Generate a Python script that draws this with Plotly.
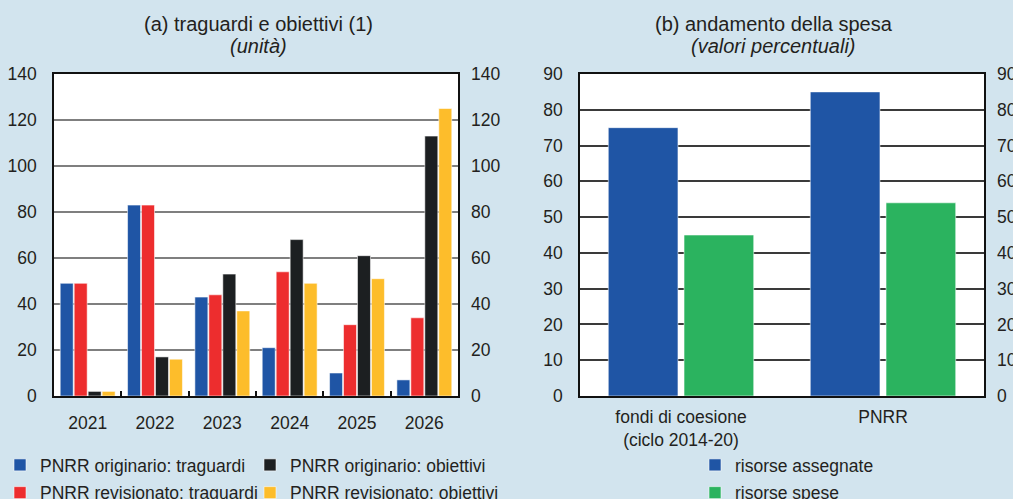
import plotly.graph_objects as go

# ---- data panel (a): milestones and targets (units)
years = ["2021", "2022", "2023", "2024", "2025", "2026"]
orig_traguardi = [49, 83, 43, 21, 10, 7]
rev_traguardi = [49, 83, 44, 54, 31, 34]
orig_obiettivi = [2, 17, 53, 68, 61, 113]
rev_obiettivi = [2, 16, 37, 49, 51, 125]

# ---- data panel (b): spending (percent)
spesa_categorie = ["fondi di coesione<br>(ciclo 2014-20)", "PNRR"]
risorse_assegnate = [75, 85]
risorse_spese = [45, 54]

names_a = ["PNRR originario: traguardi", "PNRR revisionato: traguardi",
           "PNRR originario: obiettivi", "PNRR revisionato: obiettivi"]
series_a = [orig_traguardi, rev_traguardi, orig_obiettivi, rev_obiettivi]
colors_a = ["#1f55a5", "#ed2d2e", "#1c1f21", "#fdbd2b"]
legends_a = ["legend", "legend", "legend3", "legend3"]

BG = "#d2e4ee"
FONT = "Liberation Sans, Arial, sans-serif"
TXT = "#231f20"
outline = dict(color="rgba(255,255,255,0.55)", width=1)

fig = go.Figure()
for i, (name, vals, col, lg) in enumerate(zip(names_a, series_a, colors_a, legends_a)):
    fig.add_trace(go.Bar(x=years, y=vals, name=name, marker=dict(color=col, line=outline),
                         xaxis="x", yaxis="y", legend=lg, legendgroup=f"a{i}"))

fig.add_trace(go.Bar(x=spesa_categorie, y=risorse_assegnate, name="risorse assegnate",
                     marker=dict(color="#1f55a5", line=outline), width=0.345, offset=-0.36,
                     xaxis="x2", yaxis="y2", legend="legend2", legendgroup="b0"))
fig.add_trace(go.Bar(x=spesa_categorie, y=risorse_spese, name="risorse spese",
                     marker=dict(color="#2bb35f", line=outline), width=0.345, offset=0.015,
                     xaxis="x2", yaxis="y2", legend="legend2", legendgroup="b1"))

# invisible companions so the mirrored right-hand value axes are drawn
fig.add_trace(go.Scatter(x=years, y=rev_obiettivi, mode="markers", marker=dict(opacity=0),
                         xaxis="x", yaxis="y3", showlegend=False, hoverinfo="skip"))
fig.add_trace(go.Scatter(x=spesa_categorie, y=risorse_assegnate, mode="markers",
                         marker=dict(opacity=0), xaxis="x2", yaxis="y4", showlegend=False,
                         hoverinfo="skip"))

W, H = 1013, 499
dom_y = [1 - 396 / H, 1 - 74 / H]
dom_a = [54 / W, 458 / W]
dom_b = [580 / W, 984 / W]

FS = 17.5
tickfont = dict(family=FONT, size=FS, color=TXT)
frame = dict(showline=True, linecolor="#111111", linewidth=1.5, mirror=True, automargin=False)
legfont = dict(family=FONT, size=FS, color=TXT)
LEG_Y = 1 - 447 / H


def title_line(text, x, y):
    return dict(text=text, x=x / W, y=1 - y / H, xref="paper", yref="paper", showarrow=False,
                xanchor="center", yanchor="middle", font=dict(family=FONT, size=20, color=TXT))


def legend_box(x):
    return dict(orientation="v", x=x / W, xanchor="left", y=LEG_Y, yanchor="top",
                bgcolor="rgba(0,0,0,0)", font=legfont, tracegroupgap=2)


fig.update_layout(
    width=W, height=H,
    margin=dict(l=0, r=0, t=0, b=0, autoexpand=False),
    paper_bgcolor=BG, plot_bgcolor="white",
    font=dict(family=FONT, size=FS, color=TXT),
    barmode="group", bargap=0.17, bargroupgap=0.07,
    xaxis=dict(domain=dom_a, anchor="y", ticks="inside", tickson="boundaries", ticklen=5,
               tickcolor="#111111", tickwidth=1.5, showgrid=False, tickfont=tickfont,
               ticklabelstandoff=10, **frame),
    yaxis=dict(domain=dom_y, anchor="x", range=[0, 140], dtick=20, showgrid=True,
               gridcolor="#7f7f7f", gridwidth=1.5, zeroline=False, tickfont=tickfont,
               ticklabelstandoff=12, **frame),
    yaxis3=dict(overlaying="y", side="right", anchor="x", range=[0, 140], dtick=20,
                showgrid=False, zeroline=False, tickfont=tickfont, ticklabelstandoff=12,
                automargin=False),
    xaxis2=dict(domain=dom_b, anchor="y2", showgrid=False, tickfont=tickfont,
                ticklabelstandoff=4, **frame),
    yaxis2=dict(domain=dom_y, anchor="x2", range=[0, 90], dtick=10, showgrid=True,
                gridcolor="#3a3a3a", gridwidth=1.5, zeroline=False, tickfont=tickfont,
                ticklabelstandoff=12, **frame),
    yaxis4=dict(overlaying="y2", side="right", anchor="x2", range=[0, 90], dtick=10,
                showgrid=False, zeroline=False, tickfont=tickfont, ticklabelstandoff=12,
                automargin=False),
    legend=legend_box(0),
    legend3=legend_box(250),
    legend2=legend_box(695),
    annotations=[
        title_line("(a) traguardi e obiettivi (1)", 258, 24),
        title_line("<i>(unità)</i>", 258, 46),
        title_line("(b) andamento della spesa", 774, 24),
        title_line("<i>(valori percentuali)</i>", 773, 46),
    ],
)

fig.write_html("out.html", config={"displayModeBar": False},
               post_script="document.body.style.margin='0';"
                           "document.body.style.background='#d2e4ee';")
